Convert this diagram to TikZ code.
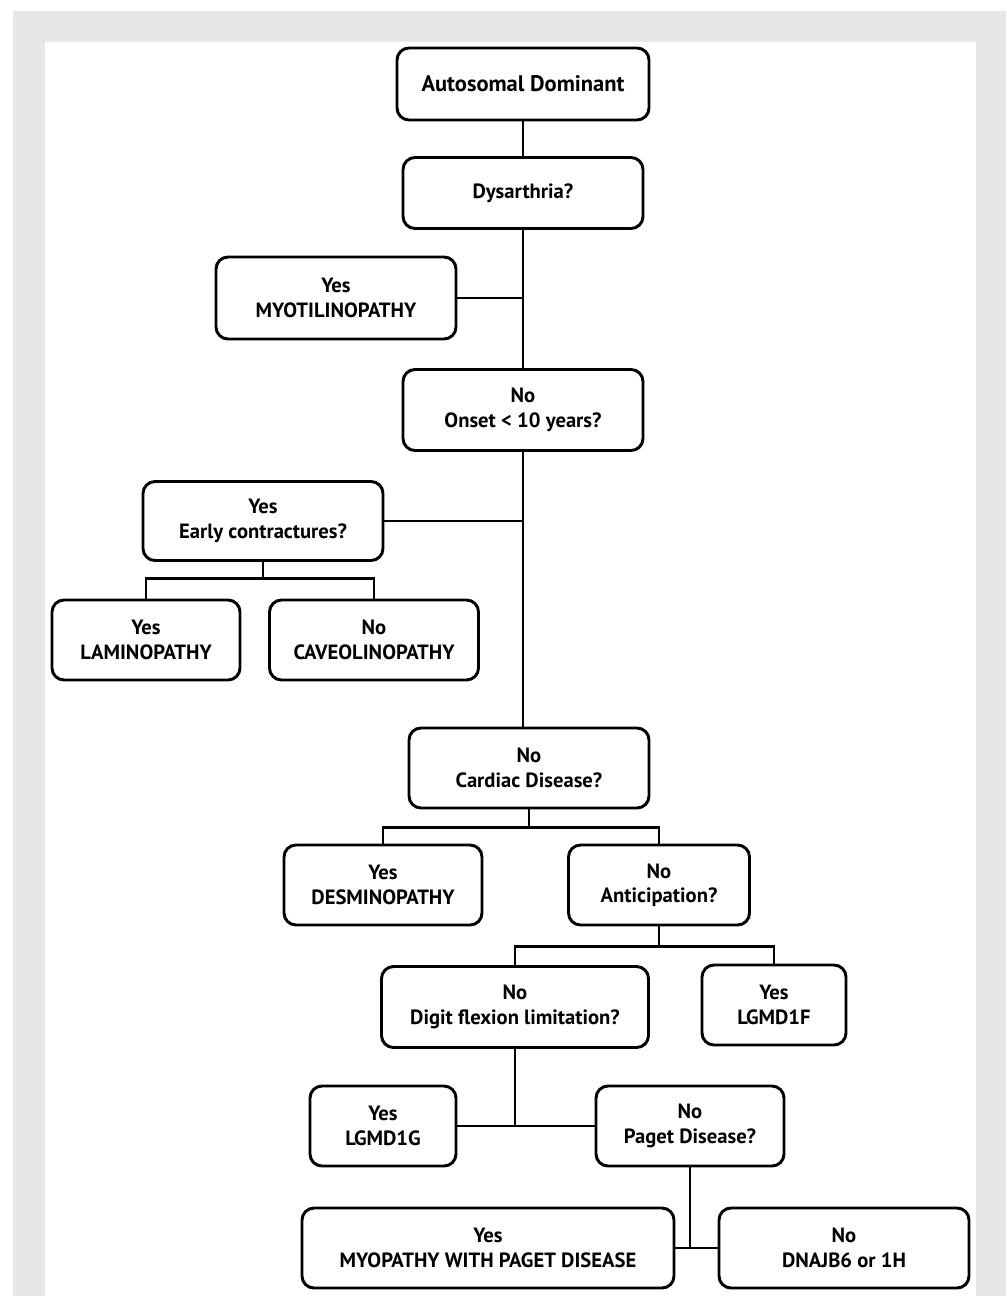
\documentclass[tikz,border=0pt]{standalone}
\usepackage{fontspec}
\setmainfont{PT Sans}
\usepackage{xcolor}
\usepackage{tikz}
\usetikzlibrary{calc}

\definecolor{framegray}{HTML}{E6E7E8}

\tikzset{
  box/.style={draw, line width=2.5pt, rounded corners=0.36cm, align=center,
    inner sep=0pt, font=\bfseries\fontsize{17.6}{20.8}\selectfont},
  sz/.style 2 args={minimum width=#1*0.03cm, minimum height=#2*0.03cm},
  link/.style={line width=2.4pt}
}

\begin{document}
\begin{tikzpicture}[x=0.03cm, y=-0.03cm]
    % Khung nền
    \useasboundingbox (0,0) rectangle (1006,1296);
    \fill[framegray] (13,11) rectangle (1006,1296);
    \fill[white] (45,42) rectangle (976,1296);

    % Các ô
    \node[box, sz={252}{72}, font=\bfseries\fontsize{19.2}{22}\selectfont] (auto) at (523,84) {Autosomal Dominant};
    \node[box, sz={240}{71}] (dys) at (523,193) {Dysarthria?};
    \node[box, sz={240}{82}] (myo) at (336,298) {Yes\\MYOTILINOPATHY};
    \node[box, sz={240}{81}] (onset) at (523,410) {No\\Onset < 10 years?};
    \node[box, sz={240}{79}] (early) at (263,521) {Yes\\Early contractures?};
    \node[box, sz={188}{80}] (lamin) at (146,640) {Yes\\LAMINOPATHY};
    \node[box, sz={209}{80}] (caveo) at (374,640) {No\\CAVEOLINOPATHY};
    \node[box, sz={240}{80}] (cardiac) at (529,768) {No\\Cardiac Disease?};
    \node[box, sz={198}{80}] (desmin) at (383,885) {Yes\\DESMINOPATHY};
    \node[box, sz={181}{80}] (antic) at (659,885) {No\\Anticipation?};
    \node[box, sz={267}{81}] (digit) at (515,1007) {No\\Digit flexion limitation?};
    \node[box, sz={144}{80}] (lgmdf) at (774,1005) {Yes\\LGMD1F};
    \node[box, sz={146}{80}] (lgmdg) at (383,1126) {Yes\\LGMD1G};
    \node[box, sz={188}{80}] (paget) at (690,1126) {No\\Paget Disease?};
    \node[box, sz={372}{80}] (mpd) at (488,1248) {Yes\\MYOPATHY WITH PAGET DISEASE};
    \node[box, sz={250}{80}] (dnajb) at (844,1248) {No\\DNAJB6 or 1H};

    % Đường nối
    \draw[link] (auto.south) -- (dys.north);
    \draw[link] (dys.south) -- (onset.north);
    \draw[link] (myo.east) -- (myo.east -| dys.south);
    \draw[link] (onset.south) -- (onset.south |- cardiac.north);
    \draw[link] (early.east) -- (early.east -| onset.south);

    \coordinate (j1) at ([yshift=-0.5cm]early.south);
    \draw[link] (early.south) -- (j1);
    \draw[link] (lamin.north) |- (j1 -| caveo.north) -- (caveo.north);

    \coordinate (j2) at ([yshift=-0.55cm]cardiac.south);
    \draw[link] (cardiac.south) -- (j2);
    \draw[link] (desmin.north) |- (j2 -| antic.north) -- (antic.north);

    \coordinate (j3) at ([yshift=-0.6cm]antic.south);
    \draw[link] (antic.south) -- (j3);
    \draw[link] (digit.north) |- (j3 -| lgmdf.north) -- (lgmdf.north);

    \draw[link] (digit.south) -- (digit.south |- lgmdg.east);
    \draw[link] (lgmdg.east) -- (paget.west);

    \draw[link] (paget.south) -- (paget.south |- mpd.east);
    \draw[link] (mpd.east) -- (dnajb.west);
\end{tikzpicture}
\end{document}
